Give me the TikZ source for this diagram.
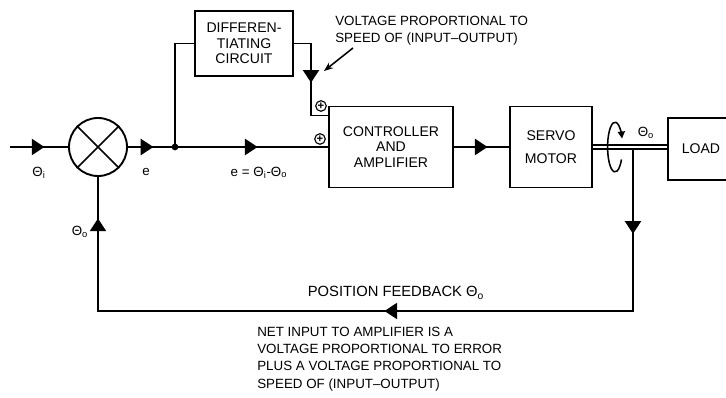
\documentclass[tikz,border=0pt]{standalone}
\usepackage{fontspec}
\setmainfont{Liberation Sans}
\usepackage{tikz}
\usetikzlibrary{arrows.meta,positioning,calc,decorations.markings}

\begin{document}
\begin{tikzpicture}[
x=0.025cm,
y=-0.025cm,
line width=1.25pt,
every node/.style={font=\fontsize{10}{11}\selectfont},
block/.style={rectangle,draw,line width=1.35pt,align=center,inner sep=1pt},
note/.style={align=left,anchor=west,inner sep=1pt,font=\fontsize{9.5}{12.3}\selectfont},
lbl/.style={font=\fontsize{9.5}{11}\selectfont,inner sep=1pt},
signmark/.style={circle,draw,line width=0.8pt,inner sep=0.3pt,minimum size=7.5pt,font=\fontsize{8}{8}\selectfont\bfseries},
tri/.tip={Triangle[length=9pt,width=11.5pt]},
flowmark/.style={postaction={decorate},decoration={markings,mark=at position #1 with {\arrow{tri}}}}
]
\useasboundingbox (0,0) rectangle (726,398);

\node[block,minimum width=2.45cm,minimum height=1.625cm] (diff) at (244,43.5) {DIFFEREN-\\TIATING\\CIRCUIT};
\node[block,minimum width=3.1cm,minimum height=2.025cm] (ctrl) at (391,147) {CONTROLLER\\AND\\AMPLIFIER};
\node[block,minimum width=2.05cm,minimum height=2.025cm,font=\fontsize{10}{16.3}\selectfont] (servo) at (551,147) {SERVO\\MOTOR};
\node[block,minimum width=1.65cm,minimum height=1.55cm] (load) at (701,149) {LOAD};
\node[circle,draw,line width=1.35pt,minimum size=1.45cm,inner sep=0pt] (sum) at (98,147) {};
\draw (sum.north west) -- (sum.south east) (sum.north east) -- (sum.south west);

\coordinate (inp) at (10,147);
\coordinate (split) at (175,147);
\coordinate (tap) at (633,149);
\coordinate (fbcorner) at (633,311);
\coordinate (speedpt) at (324,71);
\fill (split) circle[radius=2.4pt];

\node[lbl] (thi) at (39,173) {Θ\textsubscript{i}};
\node[lbl] (elbl) at (146,172) {e};
\node[lbl] (eeq) at (259,173) {e = Θ\textsubscript{i}-Θ\textsubscript{o}};
\node[lbl] (thofb) at (80,232) {Θ\textsubscript{o}};
\node[lbl] (thoshaft) at (646,133) {Θ\textsubscript{o}};
\node[lbl,font=\fontsize{10.5}{12}\selectfont] (fblbl) at (396,293) {POSITION FEEDBACK Θ\textsubscript{o}};
\node[signmark] (plustop) at (321,106) {+};
\node[signmark] (plusbot) at (320,139) {+};
\node[note] (speednote) at (333,31) {VOLTAGE PROPORTIONAL TO\\SPEED OF (INPUT–OUTPUT)};
\node[note] (netnote) at (255,359) {NET INPUT TO AMPLIFIER IS A\\VOLTAGE PROPORTIONAL TO ERROR\\PLUS A VOLTAGE PROPORTIONAL TO\\SPEED OF (INPUT–OUTPUT)};

\draw[flowmark=0.593] (inp) -- (sum);
\draw[flowmark=0.54] (sum) -- (split);
\draw[flowmark=0.54] (split) -- (ctrl);
\draw (split) |- (diff.west);
\draw[flowmark=0.53] (diff.east) -| ($(ctrl.north west)+(-17,10)$) -- ($(ctrl.north west)+(0,10)$);
\draw[flowmark=0.61] (ctrl) -- (servo);
\draw[double,double distance=1.8pt,line width=0.9pt] (servo.east) -- (servo.east -| load.west);
\draw[postaction={decorate},decoration={markings,
  mark=at position 0.102 with {\arrow{tri}},
  mark=at position 0.494 with {\arrow{tri}},
  mark=at position 0.950 with {\arrow{tri}}}]
  (tap) -- (fbcorner) -| (sum.south);
\draw[line width=1.1pt,-{Stealth[length=6.5pt,width=5pt]}] ($(speednote.south west)+(20,0)$) -- (speedpt);

% rotation of the output shaft
\draw[line width=1.1pt,-{Triangle[length=5pt,width=5pt]}] (621.5,159.5) arc[start angle=-30,end angle=-340,x radius=5.3pt,y radius=17.7pt];
\end{tikzpicture}
\end{document}
